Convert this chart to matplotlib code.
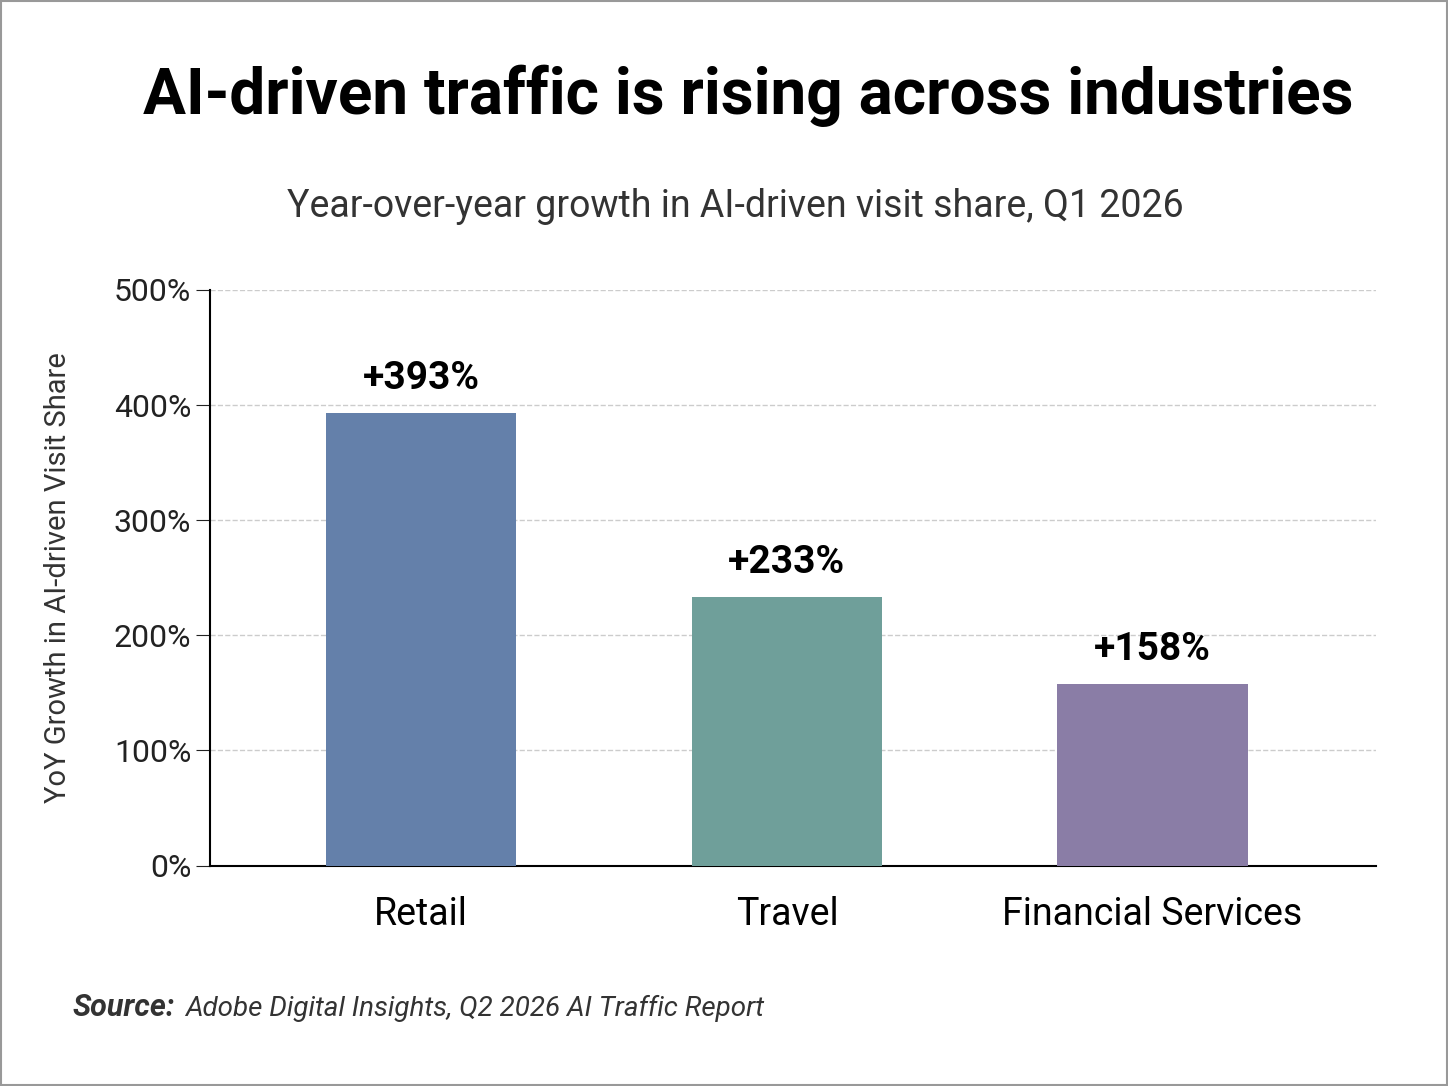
import matplotlib.pyplot as plt
from matplotlib.patches import Rectangle

categories = ['Retail', 'Travel', 'Financial Services']
growth = [393, 233, 158]
labels = ['+393%', '+233%', '+158%']
colors = ['#6480aa', '#6f9f9a', '#8a7da6']
yticks = [0, 100, 200, 300, 400, 500]

plt.rcParams['font.family'] = ['Roboto', 'DejaVu Sans']

fig = plt.figure(figsize=(14.48, 10.86), dpi=100)
ax = fig.add_axes([0.145, 0.203, 0.805, 0.530])

x = range(len(categories))
ax.bar(x, growth, width=0.52, color=colors, zorder=3)
for i, v in enumerate(growth):
    ax.text(i, v + 14, labels[i], ha='center', va='bottom', fontsize=28, fontweight='bold')

ax.set_xlim(-0.578, 2.61)
ax.set_ylim(0, 500)
ax.set_yticks(yticks)
ax.set_yticklabels([f'{t}%' for t in yticks], fontsize=23, color='#222222')
ax.set_xticks(list(x))
ax.set_xticklabels(categories, fontsize=27)
ax.tick_params(axis='x', length=0, pad=22)
ax.tick_params(axis='y', length=10, color='#222222')
ax.grid(axis='y', linestyle='--', color='#cccccc', linewidth=1, zorder=0)
for s in ['top', 'right']:
    ax.spines[s].set_visible(False)
ax.spines['left'].set_linewidth(1.5)
ax.spines['bottom'].set_linewidth(1.5)
ax.set_ylabel('YoY Growth in AI-driven Visit Share', fontsize=21, color='#333333',
              labelpad=30)

fig.text(0.517, 0.895, 'AI-driven traffic is rising across industries', ha='center',
         fontsize=46, fontweight='bold')
fig.text(0.508, 0.8, 'Year-over-year growth in AI-driven visit share, Q1 2026', ha='center',
         fontsize=27, color='#333333')
fig.text(0.05, 0.064, 'Source:', fontsize=22, fontweight='bold', style='italic', color='#333333')
fig.text(0.128, 0.064, 'Adobe Digital Insights, Q2 2026 AI Traffic Report', fontsize=20,
         style='italic', color='#333333')
fig.patches.append(Rectangle((0.001, 0.001), 0.998, 0.998, transform=fig.transFigure,
                             fill=False, edgecolor='#999999', linewidth=1.5))

fig.savefig('out.png', dpi=100)
